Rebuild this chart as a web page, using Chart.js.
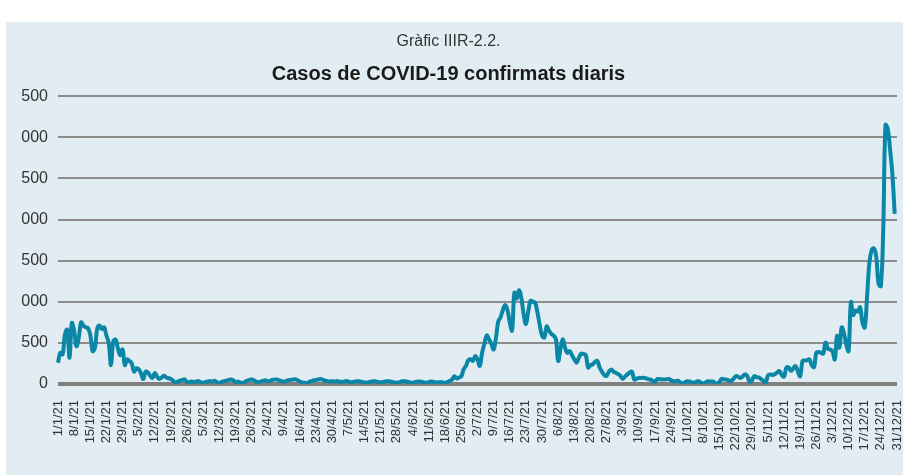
<!DOCTYPE html>
<html>
<head>
<meta charset="utf-8">
<script src="https://cdn.jsdelivr.net/npm/chart.js@4/dist/chart.umd.min.js"></script>
<style>
  html, body { margin: 0; padding: 0; background: #fff; }
  #box { position: absolute; left: 6px; top: 22px; width: 897px; height: 453px; background: #e1edf3; }
  canvas { position: absolute; left: 0; top: 0; }
</style>
</head>
<body>
<div id="box"></div>
<canvas id="chart" width="903" height="475"></canvas>
<script>
// daily confirmed cases, 1/1/21 .. 30/12/21
const cases = [
  258, 380, 360, 600, 660, 320, 740, 650, 460, 560, 750, 710, 690, 680, 600, 400,
  440, 670, 710, 670, 690, 590, 500, 230, 520, 540, 430, 350, 420, 230, 300,
  280, 250, 150, 190, 180, 130, 60, 150, 140, 100, 75, 135, 90, 60, 80, 100, 80, 70, 60, 40,
  15, 30, 40, 50, 55, 20, 25, 30,
  25, 30, 35, 20, 15, 25, 30, 35, 30, 40, 20, 10, 25, 35, 40, 50, 55, 45, 20, 30, 20, 10,
  25, 40, 50, 55, 45, 30, 25, 30, 40,
  45, 35, 40, 50, 55, 55, 45, 35, 30, 35, 45, 50, 55, 58, 45, 30, 20, 15, 10, 25, 35, 45,
  50, 55, 60, 50, 40, 35, 30, 35,
  30, 35, 30, 25, 30, 35, 30, 20, 25, 30, 35, 30, 25, 20, 15, 25, 30, 35, 30, 25, 20, 25,
  30, 35, 30, 25, 20, 15, 20, 30, 35,
  30, 25, 20, 15, 25, 30, 30, 25, 20, 15, 25, 30, 25, 20, 20, 25, 20, 15, 25, 40, 55, 95,
  65, 80, 95, 180, 220, 290, 300, 280,
  340, 300, 220, 380, 490, 590, 545, 490, 420, 560, 760, 810, 900, 960, 900, 750, 650, 1110,
  1040, 1140, 1050, 850, 730, 880, 1010, 1000, 990, 870, 720, 590, 565,
  700, 650, 610, 590, 545, 280, 430, 545, 440, 380, 400, 350, 300, 260, 320, 370, 365, 350,
  200, 230, 240, 270, 280, 200, 150, 110, 100, 150, 177, 150, 136,
  120, 100, 62, 90, 116, 140, 148, 54, 65, 74, 74, 76, 70, 60, 54, 40, 25, 60, 58, 55, 54,
  58, 60, 45, 34, 36, 40, 20, 5, 20,
  34, 30, 20, 15, 30, 34, 15, 5, 20, 34, 30, 30, 15, 5, 30, 62, 55, 54, 45, 34, 60, 95, 90,
  74, 90, 116, 100, 30, 40, 95, 85,
  80, 60, 40, 15, 104, 116, 110, 120, 140, 156, 110, 90, 200, 200, 160, 190, 218, 150, 95,
  279, 285, 290, 300, 230, 205, 381, 390, 380, 370, 504,
  430, 420, 400, 300, 586, 443, 688, 620, 480, 402, 995, 840, 893, 880, 933, 749, 688, 1056,
  1466, 1629, 1650, 1547, 1220, 1190, 1850, 3150, 3100, 2850, 2550, 2070
]

// y tick labels as printed (left part of the numbers is cut in the original)
const yTickValues = [0, 500, 1000, 1500, 2000, 2500, 3000, 3500]
const yTickLabels = ["0", "500", "000", "500", "000", "500", "000", "500"]

// one category per day of 2021, a label shown every 7 days
let days = []
for (let d = new Date(2021, 0, 1); d.getFullYear() == 2021; d.setDate(d.getDate() + 1)) {
  days.push(d.getDate() + "/" + (d.getMonth() + 1) + "/21")
}

const ctx = document.getElementById("chart").getContext("2d")
const chart = new Chart(ctx, {
  type: "line",
  data: {
    labels: days,
    datasets: [{
      data: cases,
      borderColor: "#0a86a6",
      borderWidth: 4,
      pointRadius: 0,
      tension: 0.4,
      fill: false
    }]
  },
  options: {
    responsive: false,
    devicePixelRatio: 1,
    animation: false,
    layout: { padding: { left: 0, right: 6, top: 0, bottom: 0 } },
    plugins: {
      legend: { display: false },
      tooltip: { enabled: false },
      title: {
        display: true,
        text: "Gràfic IIIR-2.2.",
        color: "#333",
        font: { family: "'Liberation Sans', Arial, sans-serif", size: 16, weight: "normal" },
        padding: { top: 32, bottom: 6 }
      },
      subtitle: {
        display: true,
        text: "Casos de COVID-19 confirmats diaris",
        color: "#1a1a1a",
        font: { family: "'Liberation Sans', Arial, sans-serif", size: 20, weight: "bold" },
        padding: { top: 5, bottom: 10 }
      }
    },
    scales: {
      x: {
        offset: false,
        grid: { display: false, drawTicks: true, tickLength: 14 },
        border: { display: false },
        ticks: {
          autoSkip: false,
          maxRotation: 90,
          minRotation: 90,
          padding: 2,
          color: "#333",
          font: { family: "'Liberation Sans', Arial, sans-serif", size: 13 },
          callback: (v, i) => (i % 7 == 0 ? days[i] : null)
        },
        afterFit: (scale) => {
          scale.height = 91
          scale.paddingLeft = 0
          scale.paddingRight = 0
        }
      },
      y: {
        min: 0,
        max: 3500,
        afterBuildTicks: (scale) => { scale.ticks = yTickValues.map(v => ({ value: v })) },
        grid: {
          drawTicks: false,
          color: (c) => (c.tick && c.tick.value == 0 ? "#808080" : "#8c8c8c"),
          lineWidth: (c) => (c.tick && c.tick.value == 0 ? 4 : 2)
        },
        border: { display: false },
        ticks: {
          padding: 10,
          color: "#333",
          font: { family: "'Liberation Sans', Arial, sans-serif", size: 16 },
          callback: (v) => yTickLabels[yTickValues.indexOf(v)]
        },
        afterFit: (scale) => { scale.width = 58 }
      }
    }
  }
})
</script>
</body>
</html>
